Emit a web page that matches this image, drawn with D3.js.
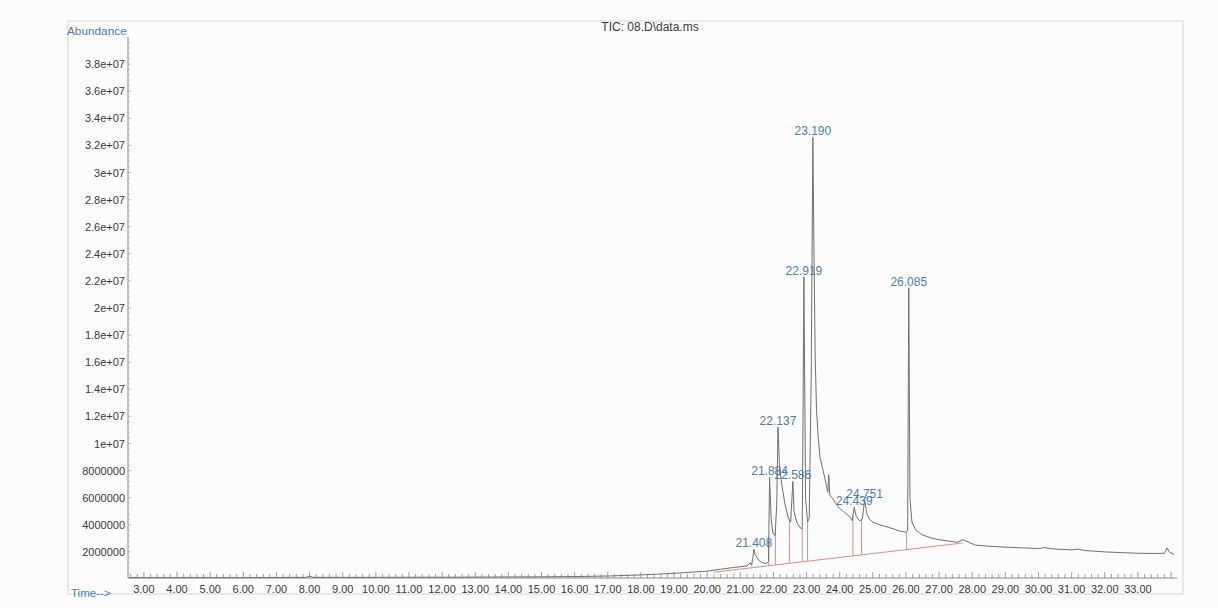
<head>
<meta charset="utf-8">
<script src="https://d3js.org/d3.v7.min.js"></script>
<style>
  body { margin: 0; background: #fcfcfc; }
  text { font-family: "Liberation Sans", Arial, sans-serif; }
</style>
</head>
<body>
<script>
    // retention time (min) and abundance (millions)
    var timeMin = [2.55, 3.0, 4.0, 5.0, 6.0, 7.0, 7.9, 8.0, 8.1, 9.0, 10.0, 11.0, 12.0, 13.0, 14.0, 15.0, 16.0, 17.0, 18.0, 19.0,
        19.5, 20.0, 20.4, 20.8, 21.2, 21.3, 21.34, 21.38, 21.408, 21.45, 21.55, 21.66, 21.8, 21.85, 21.884, 21.93, 21.98, 22.05,
        22.1, 22.137, 22.18, 22.25, 22.35, 22.45, 22.52, 22.586, 22.62, 22.7, 22.8, 22.87, 22.919, 22.97, 23.03, 23.08, 23.14,
        23.19, 23.22, 23.26, 23.3, 23.35, 23.41, 23.5, 23.6, 23.64, 23.67, 23.7, 23.8, 23.9, 24.0, 24.15, 24.3, 24.38, 24.439,
        24.5, 24.6, 24.68, 24.751, 24.82, 24.9, 25.0, 25.2, 25.5, 25.8, 26.0, 26.05, 26.085, 26.12, 26.18, 26.3, 26.5, 26.8,
        27.0, 27.3, 27.55, 27.72, 27.9, 28.1, 28.5, 29.0, 29.5, 30.0, 30.2, 30.4, 31.0, 31.2, 31.4, 32.0, 32.5, 33.0, 33.5,
        33.8, 33.88, 33.95, 34.1];
    var abundanceM = [0.10, 0.10, 0.10, 0.10, 0.10, 0.11, 0.12, 0.22, 0.12, 0.12, 0.12, 0.13, 0.13, 0.14, 0.15, 0.16, 0.18, 0.22, 0.30, 0.42,
        0.50, 0.58, 0.72, 0.85, 0.96, 1.2, 1.0, 1.6, 2.2, 1.8, 1.4, 1.2, 1.15, 1.3, 7.5, 4.5, 3.4, 3.2,
        5.5, 11.2, 8.5, 7.0, 5.5, 4.5, 4.2, 7.2, 5.0, 4.2, 3.8, 3.7, 22.3, 6.0, 4.2, 4.5, 15.0,
        32.6, 25.0, 16.5, 12.5, 10.5, 8.9, 8.0, 6.9, 6.4, 7.7, 6.2, 5.9, 5.5, 5.2, 4.9, 4.6, 4.3, 5.3,
        4.6, 4.3, 4.4, 5.8, 4.8, 4.4, 4.2, 4.0, 3.8, 3.55, 3.45, 3.6, 21.5, 6.0, 4.2, 3.6, 3.25, 3.0,
        2.9, 2.8, 2.7, 2.9, 2.7, 2.5, 2.42, 2.35, 2.3, 2.25, 2.32, 2.22, 2.15, 2.2, 2.1, 2.0, 1.95, 1.9, 1.88,
        1.9, 2.3, 2.0, 1.8];

    var peakTimes = [21.408, 21.884, 22.137, 22.586, 22.919, 23.190, 24.439, 24.751, 26.085];
    var peakLabels = ["21.408", "21.884", "22.137", "22.586", "22.919", "23.190", "24.439", "24.751", "26.085"];
    var peakHeights = [2.2, 7.5, 11.2, 7.2, 22.3, 32.6, 5.3, 5.8, 21.5];

    // integration boundaries and the common baseline
    var dropTimes = [21.86, 22.06, 22.48, 22.87, 23.03, 24.40, 24.66, 26.02];
    var baseTimes = [20.2, 27.72];
    var baseValues = [0.5, 2.66];

    var yTickValues = [2, 4, 6, 8, 10, 12, 14, 16, 18, 20, 22, 24, 26, 28, 30, 32, 34, 36, 38];
    var yTickLabels = ["2000000", "4000000", "6000000", "8000000", "1e+07", "1.2e+07", "1.4e+07", "1.6e+07", "1.8e+07", "2e+07",
        "2.2e+07", "2.4e+07", "2.6e+07", "2.8e+07", "3e+07", "3.2e+07", "3.4e+07", "3.6e+07", "3.8e+07"];
    var xTickLabels = ["3.00", "4.00", "5.00", "6.00", "7.00", "8.00", "9.00", "10.00", "11.00", "12.00", "13.00", "14.00",
        "15.00", "16.00", "17.00", "18.00", "19.00", "20.00", "21.00", "22.00", "23.00", "24.00", "25.00", "26.00", "27.00",
        "28.00", "29.00", "30.00", "31.00", "32.00", "33.00"];

    var width = 1218, height = 608;
    var axLeft = 128, axRight = 1177, axTop = 37, axBottom = 578;

    var x = d3.scaleLinear().domain([2.52, 34.18]).range([axLeft, axRight]);
    var y = d3.scaleLinear().domain([0, 40]).range([579, axTop]);

    var svg = d3.select("body").append("svg")
        .attr("width", width)
        .attr("height", height);

    // outer frame
    svg.append("rect")
        .attr("x", 68).attr("y", 21)
        .attr("width", 1115).attr("height", 573)
        .style("fill", "none")
        .style("stroke", "#d6d6d6")
        .style("stroke-width", 1);

    svg.append("text")
        .attr("x", 650).attr("y", 31)
        .attr("text-anchor", "middle")
        .style("font-size", "12px")
        .style("fill", "#3a3a3a")
        .text("TIC: 08.D\\data.ms");

    svg.append("text")
        .attr("x", 67).attr("y", 35)
        .style("font-size", "11.8px")
        .style("fill", "#4d7ea8")
        .text("Abundance");

    svg.append("text")
        .attr("x", 71).attr("y", 597)
        .style("font-size", "11.5px")
        .style("fill", "#4d7ea8")
        .text("Time-->");

    // y axis
    svg.append("line")
        .attr("x1", axLeft).attr("x2", axLeft)
        .attr("y1", axTop).attr("y2", axBottom)
        .style("stroke", "#888").style("stroke-width", 1);

    svg.selectAll(".ytick")
        .data(d3.range(1, 100))
        .enter().append("line")
        .attr("class", "ytick")
        .attr("x1", axLeft).attr("x2", function (d) { return axLeft + (d % 5 == 0 ? 3 : 1.5); })
        .attr("y1", function (d) { return y(d * 0.4); })
        .attr("y2", function (d) { return y(d * 0.4); })
        .style("stroke", "#aaa").style("stroke-width", 0.8);

    svg.selectAll(".ylab")
        .data(yTickValues)
        .enter().append("text")
        .attr("class", "ylab")
        .attr("x", axLeft - 3)
        .attr("y", function (d) { return y(d) + 4; })
        .attr("text-anchor", "end")
        .style("font-size", "11px")
        .style("fill", "#3a3a3a")
        .text(function (d, i) { return yTickLabels[i]; });

    // x axis
    svg.append("line")
        .attr("x1", axLeft).attr("x2", axRight)
        .attr("y1", axBottom).attr("y2", axBottom)
        .style("stroke", "#888").style("stroke-width", 1);

    var minorTicks = d3.range(13, 171).map(function (d) { return d / 5; });
    svg.selectAll(".xtick")
        .data(minorTicks)
        .enter().append("line")
        .attr("class", "xtick")
        .attr("x1", function (d) { return x(d); })
        .attr("x2", function (d) { return x(d); })
        .attr("y1", axBottom)
        .attr("y2", function (d) { return Math.abs(d - Math.round(d)) < 0.01 ? axBottom - 6 : axBottom - 4; })
        .style("stroke", "#888").style("stroke-width", 0.8);

    svg.selectAll(".xlab")
        .data(xTickLabels)
        .enter().append("text")
        .attr("class", "xlab")
        .attr("x", function (d) { return x(+d); })
        .attr("y", 593)
        .attr("text-anchor", "middle")
        .style("font-size", "11px")
        .style("fill", "#3a3a3a")
        .text(function (d) { return d; });

    // trace
    var pts = timeMin.map(function (t, i) { return [t, abundanceM[i]]; });
    var line = d3.line()
        .x(function (d) { return x(d[0]); })
        .y(function (d) { return y(d[1]); });

    // integration baseline + drop lines
    var bScale = d3.scaleLinear().domain(baseTimes).range(baseValues);
    var curveAt = function (t) {
        var i = d3.bisector(function (d) { return d[0]; }).left(pts, t);
        var a = pts[i - 1], b = pts[i];
        return a[1] + (b[1] - a[1]) * (t - a[0]) / (b[0] - a[0]);
    };

    svg.append("line")
        .attr("x1", x(baseTimes[0])).attr("y1", y(baseValues[0]))
        .attr("x2", x(baseTimes[1])).attr("y2", y(baseValues[1]))
        .style("stroke", "#d4928a").style("stroke-width", 1);

    svg.selectAll(".drop")
        .data(dropTimes)
        .enter().append("line")
        .attr("class", "drop")
        .attr("x1", function (d) { return x(d); })
        .attr("x2", function (d) { return x(d); })
        .attr("y1", function (d) { return y(bScale(d)); })
        .attr("y2", function (d) { return y(curveAt(d)); })
        .style("stroke", "#d4928a").style("stroke-width", 1);

    svg.append("path")
        .datum(pts)
        .attr("d", line)
        .style("fill", "none")
        .style("stroke", "#707070")
        .style("stroke-width", 1);

    // peak labels
    svg.selectAll(".plab")
        .data(peakTimes)
        .enter().append("text")
        .attr("class", "plab")
        .attr("x", function (d) { return x(d); })
        .attr("y", function (d, i) { return y(peakHeights[i]) - 2; })
        .attr("text-anchor", "middle")
        .style("font-size", "12px")
        .style("fill", "#4d7ea8")
        .text(function (d, i) { return peakLabels[i]; });
</script>
</body>
